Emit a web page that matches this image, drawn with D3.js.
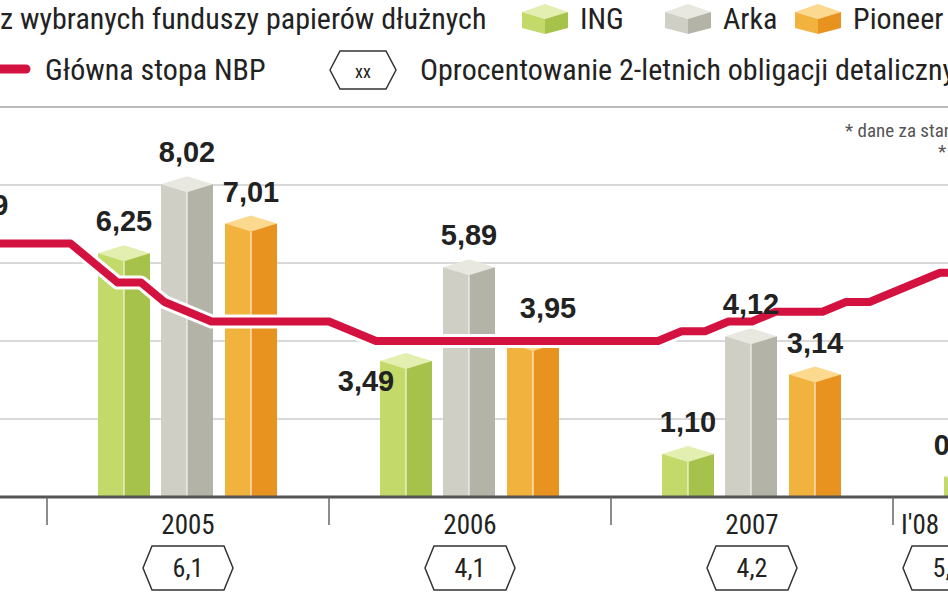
<!DOCTYPE html>
<html><head><meta charset="utf-8">
<script src="https://cdn.jsdelivr.net/npm/d3@7"></script>
<style>body{margin:0;background:#fff;overflow:hidden}</style>
</head><body>
<script>
const years = ['2005', '2006', '2007', "I'08"];
const ing = [6.25, 3.49, 1.10, 0.52];
const arka = [8.02, 5.89, 4.12, null];
const pioneer = [7.01, 3.95, 3.14, null];
const bonds = ['6,1', '4,1', '4,2', '5,5'];
// NBP rate, monthly from Nov 2004
const nbp = [6.5, 6.5, 6.5, 6.5, 6.0, 5.5, 5.5, 5.0, 4.75, 4.5, 4.5, 4.5, 4.5, 4.5,
  4.5, 4.25, 4.0, 4.0, 4.0, 4.0, 4.0, 4.0, 4.0, 4.0, 4.0, 4.0,
  4.0, 4.0, 4.0, 4.25, 4.25, 4.5, 4.5, 4.75, 4.75, 4.75, 5.0, 5.0,
  5.25, 5.5, 5.75, 5.75];
const yTicks = [0, 2, 4, 6, 8, 10];

const W = 948, H = 593;
const font = '"Liberation Sans Narrow", "Roboto Condensed", "Liberation Sans", sans-serif';
const svg = d3.select('body').append('svg').attr('width', W).attr('height', H);

const y = d3.scaleLinear().domain([0, 10]).range([497, 107]);
const x = d3.scaleBand().domain(years).range([47, 47 + 282 * 4]);
const xm = d3.scaleLinear().domain([2, 14]).range([47, 329]); // month index (0 = Nov 2004)

// grid
svg.selectAll('.grid').data(yTicks.slice(1)).join('line')
  .attr('x1', 0).attr('x2', W).attr('y1', d => y(d)).attr('y2', d => y(d))
  .attr('stroke', d => d === 10 ? '#bbb' : '#ccc').attr('stroke-width', d => d === 10 ? 2 : 1.5);

const series = [
  {name: 'ING', vals: ing, front: '#c3d96a', side: '#a7c24a', top: '#e3efb0', off: -90},
  {name: 'Arka', vals: arka, front: '#cfcfc5', side: '#b3b3a8', top: '#e8e8e0', off: -27},
  {name: 'Pioneer', vals: pioneer, front: '#f2b23e', side: '#e8931f', top: '#fbd98f', off: 37}
];
const bw = 52;
series.forEach(s => {
  years.forEach((yr, i) => {
    const v = s.vals[i];
    if (v == null) return;
    const cx = x(yr) + x.bandwidth() / 2 + s.off;
    const x0 = cx, x1 = cx + bw / 2, x2 = cx + bw;
    const yt = y(v), yb = y(0);
    const g = svg.append('g');
    g.append('rect').attr('x', x0).attr('y', yt).attr('width', bw / 2).attr('height', yb - yt).attr('fill', s.front);
    g.append('rect').attr('x', x1).attr('y', yt).attr('width', bw / 2).attr('height', yb - yt).attr('fill', s.side);
    g.append('path').attr('d', `M${x0},${yt} L${x1},${yt - 8} L${x2},${yt} L${x1},${yt + 8} Z`).attr('fill', s.top);
    g.append('line').attr('x1', x1).attr('x2', x1).attr('y1', yt + 8).attr('y2', yb).attr('stroke', '#fff').attr('stroke-width', 1);
  });
});

// NBP line
const line = d3.line().x((d, i) => xm(i)).y(d => y(d));
svg.append('path').datum(nbp).attr('d', line)
  .attr('fill', 'none').attr('stroke', '#fff').attr('stroke-width', 14).attr('stroke-linejoin', 'round');
svg.append('path').datum(nbp).attr('d', line)
  .attr('fill', 'none').attr('stroke', '#d4123f').attr('stroke-width', 8).attr('stroke-linejoin', 'round');

// value labels
const fmt = v => v.toFixed(2).replace('.', ',');
series.forEach(s => {
  years.forEach((yr, i) => {
    const v = s.vals[i];
    if (v == null) return;
    let cx = x(yr) + x.bandwidth() / 2 + s.off + bw / 2;
    let ly = y(v) - 22;
    if (s.name === 'ING' && i === 1) { ly = y(v) + 30; cx -= 40; }
    if (s.name === 'Pioneer' && i === 1) { ly = 318; cx += 15; }
    if (s.name === 'ING' && i === 3) cx -= 8;
    svg.append('text').attr('x', cx).attr('y', ly)
      .attr('text-anchor', 'middle').attr('font-family', 'Liberation Sans, Arial, sans-serif')
      .attr('font-weight', 'bold').attr('font-size', 29).attr('fill', '#222').text(fmt(v));
  });
});
svg.append('text').attr('x', -24).attr('y', 215).attr('font-family', 'Liberation Sans, sans-serif')
  .attr('font-weight', 'bold').attr('font-size', 29).attr('fill', '#222').text('59');

// axis
svg.append('line').attr('x1', 0).attr('x2', W).attr('y1', 497).attr('y2', 497).attr('stroke', '#555').attr('stroke-width', 3);
svg.selectAll('.tk').data(years).join('line')
  .attr('x1', d => x(d)).attr('x2', d => x(d)).attr('y1', 497).attr('y2', 525)
  .attr('stroke', '#666').attr('stroke-width', 1.5);
years.forEach((yr, i) => {
  const cx = x(yr) + x.bandwidth() / 2;
  const tx = i === 3 ? x(yr) + 27 : cx;
  svg.append('text').attr('x', tx).attr('y', 534).attr('text-anchor', 'middle')
    .attr('font-family', font).attr('font-size', 27).attr('fill', '#222').text(yr);
  const hx = i === 3 ? x(yr) + 55 : cx, hy = 568, hw = 45, hh = 22;
  svg.append('path').attr('d', `M${hx - hw},${hy} L${hx - hw + 9},${hy - hh} L${hx + hw - 9},${hy - hh} L${hx + hw},${hy} L${hx + hw - 9},${hy + hh} L${hx - hw + 9},${hy + hh} Z`)
    .attr('fill', '#fff').attr('stroke', '#333').attr('stroke-width', 1.5);
  svg.append('text').attr('x', hx).attr('y', hy + 9).attr('text-anchor', 'middle')
    .attr('font-family', font).attr('font-size', 26).attr('fill', '#222').text(bonds[i]);
});

// legend
const lt = (t, lx, ly, sz) => svg.append('text').attr('x', lx).attr('y', ly)
  .attr('font-family', font).attr('font-size', sz || 30).attr('fill', '#222').text(t);
lt('z wybranych funduszy papierów dłużnych', 0, 29);
[[522, 'ING', 0], [665, 'Arka', 1], [795, 'Pioneer', 2]].forEach(([lx, t, k]) => {
  const s = series[k];
  svg.append('path').attr('d', `M${lx},${12} L${lx + 23},${4} L${lx + 46},${12} L${lx + 23},${19} Z`).attr('fill', s.top);
  svg.append('path').attr('d', `M${lx},${12} L${lx + 23},${19} L${lx + 23},${34} L${lx},${28} Z`).attr('fill', s.front);
  svg.append('path').attr('d', `M${lx + 23},${19} L${lx + 46},${12} L${lx + 46},${28} L${lx + 23},${34} Z`).attr('fill', s.side);
  lt(t, lx + 58, 29);
});
svg.append('line').attr('x1', 0).attr('x2', 26).attr('y1', 69).attr('y2', 69).attr('stroke', '#d4123f').attr('stroke-width', 9).attr('stroke-linecap', 'round');
lt('Główna stopa NBP', 45, 80);
svg.append('path').attr('d', 'M330,70 L340,51 L386,51 L396,70 L386,89 L340,89 Z').attr('fill', '#fff').attr('stroke', '#333').attr('stroke-width', 1.5);
lt('xx', 363, 78, 18).attr('text-anchor', 'middle');
lt('Oprocentowanie 2-letnich obligacji detalicznych', 420, 80);
lt('* dane za stan', 845, 137, 19).attr('fill', '#555');
lt('*', 938, 158, 19).attr('fill', '#555');
</script>
</body></html>
